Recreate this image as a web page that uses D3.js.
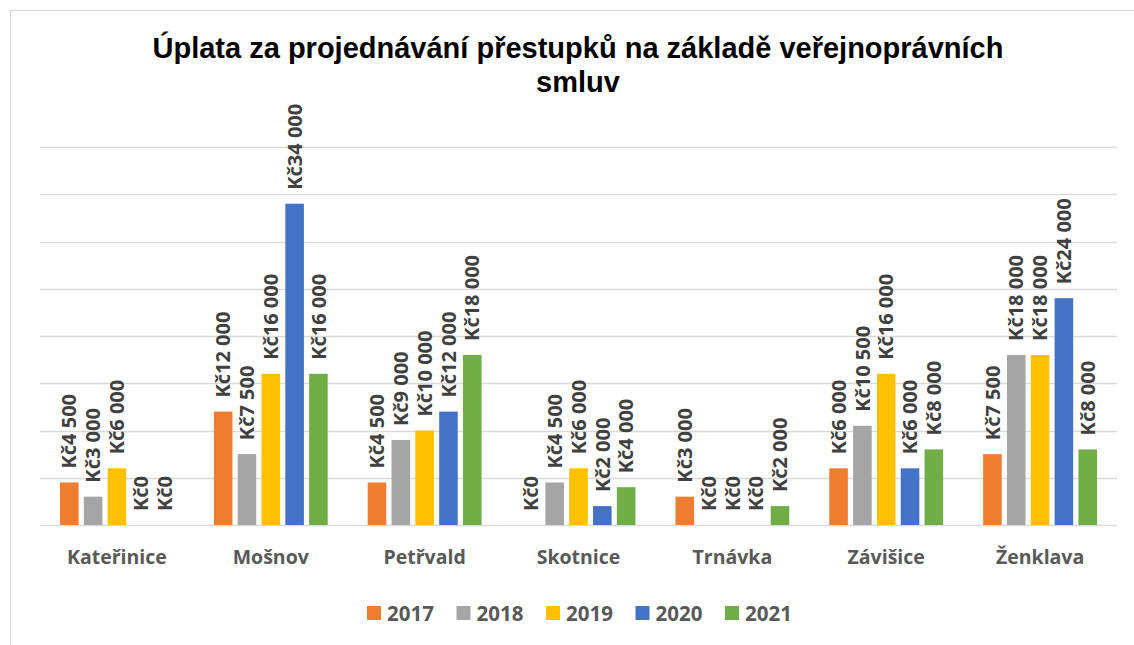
<!DOCTYPE html>
<html>
<head>
<meta charset="utf-8">
<script src="https://cdn.jsdelivr.net/npm/d3@7"></script>
<style>
  body { margin: 0; background: #fff; }
  svg { display: block; }
</style>
</head>
<body>
<svg id="chart" width="1134" height="645"></svg>
<script>
(function (d3) {
  "use strict";

  /***** Data *****/
  var towns = ["Kateřinice", "Mošnov", "Petřvald", "Skotnice", "Trnávka", "Závišice", "Ženklava"];
  var years = ["2017", "2018", "2019", "2020", "2021"];
  var v2017 = [4500, 12000, 4500, 0, 3000, 6000, 7500];
  var v2018 = [3000, 7500, 9000, 4500, 0, 10500, 18000];
  var v2019 = [6000, 16000, 10000, 6000, 0, 16000, 18000];
  var v2020 = [0, 34000, 12000, 2000, 0, 6000, 24000];
  var v2021 = [0, 16000, 18000, 4000, 2000, 8000, 8000];
  var yTicks = [0, 5000, 10000, 15000, 20000, 25000, 30000, 35000, 40000];
  var colors = ["#ED7D31", "#A5A5A5", "#FFC000", "#4472C4", "#70AD47"];

  var series = [v2017, v2018, v2019, v2020, v2021];

  /***** Configuration *****/
  var plot = {left: 40, right: 1117, top: 147, bottom: 525};
  var svg = d3.select("#chart");

  // outer chart frame
  svg.append("rect")
    .attr("x", 10.5).attr("y", 10.5)
    .attr("width", 1140).attr("height", 650)
    .attr("fill", "none").attr("stroke", "#D9D9D9");

  /***** Scales *****/
  var x0 = d3.scaleBand().domain(towns).range([plot.left, plot.right]).paddingInner(0.26).paddingOuter(0.13);
  var x1 = d3.scaleBand().domain(years).range([0, x0.bandwidth()]).padding(0.22).paddingOuter(0);
  var y = d3.scaleLinear().domain([0, 40000]).range([plot.bottom, plot.top]);
  var color = d3.scaleOrdinal().domain(years).range(colors);

  function fmt(v) {
    return "Kč" + d3.format(",")(v).replace(/,/g, " ");
  }

  /***** Title *****/
  var title = svg.append("text")
    .attr("text-anchor", "middle")
    .attr("font-family", "'Liberation Sans', Arial, sans-serif")
    .attr("font-weight", "bold")
    .attr("font-size", 29)
    .attr("fill", "#000");
  title.append("tspan").attr("x", 578).attr("y", 58).text("Úplata za projednávání přestupků na základě veřejnoprávních");
  title.append("tspan").attr("x", 578).attr("y", 92).text("smluv");

  /***** Grid *****/
  svg.append("g").selectAll("line")
    .data(yTicks)
    .join("line")
    .attr("x1", plot.left).attr("x2", plot.right)
    .attr("y1", function (d) { return Math.round(y(d)) + 0.5; })
    .attr("y2", function (d) { return Math.round(y(d)) + 0.5; })
    .attr("stroke", "#D9D9D9")
    .attr("stroke-width", 1.5);

  /***** Bars *****/
  var rows = [];
  towns.forEach(function (t, i) {
    years.forEach(function (yr, j) {
      rows.push({town: t, year: yr, value: series[j][i]});
    });
  });

  var bars = svg.append("g");
  bars.selectAll("rect")
    .data(rows)
    .join("rect")
    .attr("x", function (d) { return x0(d.town) + x1(d.year); })
    .attr("y", function (d) { return y(d.value); })
    .attr("width", x1.bandwidth())
    .attr("height", function (d) { return y(0) - y(d.value); })
    .attr("fill", function (d) { return color(d.year); });

  // data labels, rotated
  bars.selectAll("text")
    .data(rows)
    .join("text")
    .attr("transform", function (d) {
      var cx = x0(d.town) + x1(d.year) + x1.bandwidth() / 2;
      return "translate(" + cx + "," + (y(d.value) - 14) + ") rotate(-90)";
    })
    .attr("dy", "0.36em")
    .attr("font-family", "'Open Sans', sans-serif")
    .attr("font-weight", "bold")
    .attr("font-size", 20)
    .attr("fill", "#404040")
    .text(function (d) { return fmt(d.value); });

  /***** Category axis labels *****/
  svg.append("g").selectAll("text")
    .data(towns)
    .join("text")
    .attr("x", function (d) { return x0(d) + x0.bandwidth() / 2; })
    .attr("y", 564)
    .attr("text-anchor", "middle")
    .attr("font-family", "'Open Sans', sans-serif")
    .attr("font-weight", "bold")
    .attr("font-size", 19.5)
    .attr("fill", "#595959")
    .text(function (d) { return d; });

  /***** Legend *****/
  var legend = svg.append("g").selectAll("g")
    .data(years)
    .join("g")
    .attr("transform", function (d, i) { return "translate(" + (367 + i * 89.5) + ",606)"; });
  legend.append("rect")
    .attr("width", 14).attr("height", 14)
    .attr("fill", function (d) { return color(d); });
  legend.append("text")
    .attr("x", 20).attr("y", 14.5)
    .attr("font-family", "'Open Sans', sans-serif")
    .attr("font-weight", "bold")
    .attr("font-size", 20.5)
    .attr("fill", "#595959")
    .text(function (d) { return d; });

})(d3);
</script>
</body>
</html>
